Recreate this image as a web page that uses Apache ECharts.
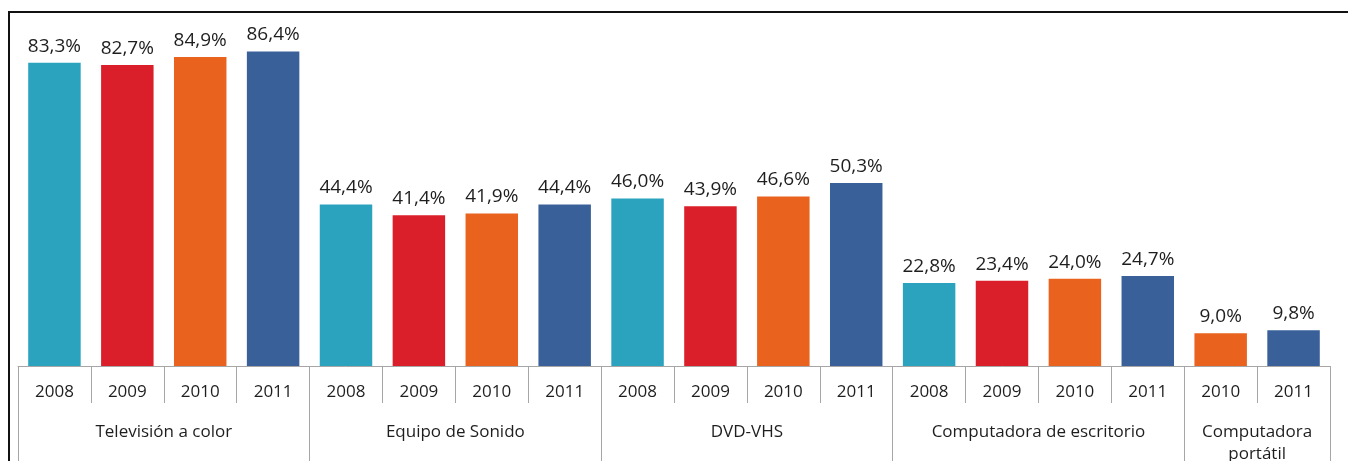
<!DOCTYPE html>
<html>
<head>
<meta charset="utf-8">
<script src="https://cdn.jsdelivr.net/npm/echarts@6/dist/echarts.min.js"></script>
<style>
  html, body { margin: 0; padding: 0; background: #fff; }
  #chart { width: 1348px; height: 461px; }
  #frame {
    position: absolute; left: 8px; top: 11px; right: 0; bottom: 0;
    border-top: 2px solid #111; border-left: 2px solid #111;
    pointer-events: none;
  }
</style>
</head>
<body>
<div id="chart"></div>
<div id="frame"></div>
<script>
// grupos del eje (nivel 2)
const groupNames = ['Televisión a color', 'Equipo de Sonido', 'DVD-VHS', 'Computadora de escritorio', 'Computadora\nportátil']
// años por grupo (nivel 1)
const groupYears = [
  ['2008', '2009', '2010', '2011'],
  ['2008', '2009', '2010', '2011'],
  ['2008', '2009', '2010', '2011'],
  ['2008', '2009', '2010', '2011'],
  ['2010', '2011']
]
// porcentajes
const groupValues = [
  [83.3, 82.7, 84.9, 86.4],
  [44.4, 41.4, 41.9, 44.4],
  [46.0, 43.9, 46.6, 50.3],
  [22.8, 23.4, 24.0, 24.7],
  [9.0, 9.8]
]
const yearColors = {
  '2008': '#2ba3bf',
  '2009': '#db1f2a',
  '2010': '#e9631e',
  '2011': '#3a6099'
}

let categories = [], barData = [], groupTicks = [0], groupCenters = [], centerNames = {}
let pos = 0
for (let g = 0; g < groupNames.length; g++) {
  let n = groupYears[g].length
  for (let i = 0; i < n; i++) {
    categories.push(groupYears[g][i])
    barData.push({
      value: groupValues[g][i],
      itemStyle: { color: yearColors[groupYears[g][i]] }
    })
  }
  groupCenters.push(pos + n / 2)
  centerNames[pos + n / 2] = groupNames[g]
  pos += n
  groupTicks.push(pos)
}

const FONT = '"Open Sans", "Noto Sans", sans-serif'
let myChart = echarts.init(document.getElementById('chart'))

let option = {
  animation: false,
  grid: { left: 18, right: 18, top: 2, bottom: 95, outerBoundsMode: 'none', containLabel: false },
  xAxis: [
    {
      type: 'category',
      data: categories,
      position: 'bottom',
      axisLine: { lineStyle: { color: '#a6a6a6', width: 1 } },
      axisTick: { show: true, interval: 0, length: 37, lineStyle: { color: '#a6a6a6' } },
      axisLabel: { interval: 0, margin: 18, fontSize: 17, color: '#1e1e1e', fontFamily: FONT }
    },
    {
      type: 'value',
      position: 'bottom',
      min: 0,
      max: pos,
      splitLine: { show: false },
      axisLine: { show: false },
      axisTick: { show: true, customValues: groupTicks, length: 100, lineStyle: { color: '#a6a6a6' } },
      axisLabel: {
        customValues: groupCenters,
        margin: 55,
        fontSize: 17,
        lineHeight: 22,
        color: '#1e1e1e',
        fontFamily: FONT,
        align: 'center',
        formatter: function (v) { return centerNames[v] || '' }
      }
    }
  ],
  yAxis: {
    type: 'value',
    min: 0,
    max: 100,
    show: false
  },
  series: [{
    type: 'bar',
    xAxisIndex: 0,
    data: barData,
    barWidth: '72%',
    label: {
      show: true,
      position: 'top',
      distance: 7,
      fontSize: 19,
      color: '#1e1e1e',
      fontFamily: FONT,
      formatter: function (p) { return p.value.toFixed(1).replace('.', ',') + '%' }
    }
  }]
}

myChart.setOption(option)
</script>
</body>
</html>
